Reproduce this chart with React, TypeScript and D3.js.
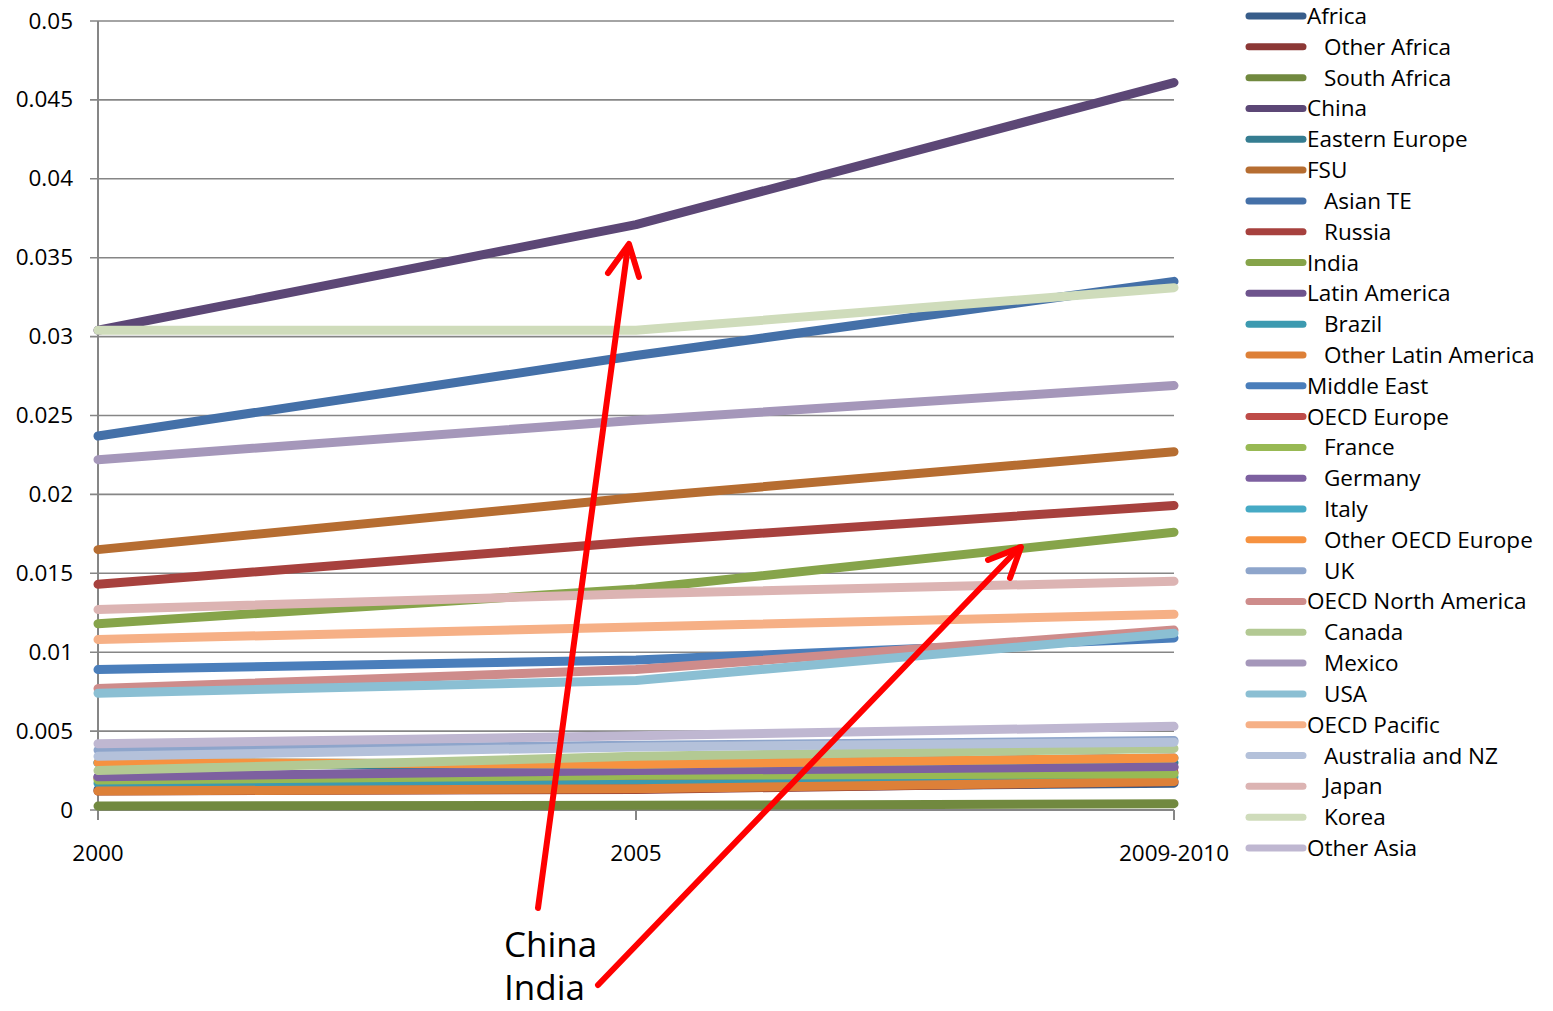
import React from "react";
import * as d3 from "d3";

// Category axis
const periods = ["2000", "2005", "2009-2010"];

// Series (legend order = draw order)
const seriesNames = [
  "Africa", "  Other Africa", "  South Africa", "China", "Eastern Europe", "FSU",
  "  Asian TE", "  Russia", "India", "Latin America", "  Brazil", "  Other Latin America",
  "Middle East", "OECD Europe", "  France", "  Germany", "  Italy", "  Other OECD Europe",
  "  UK", "OECD North America", "  Canada", "  Mexico", "  USA", "OECD Pacific",
  "  Australia and NZ", "  Japan", "  Korea", "Other Asia",
];

const africa = [0.0013, 0.0014, 0.0017];
const otherAfrica = [0.0012, 0.0013, 0.0018];
const southAfrica = [0.00025, 0.0003, 0.0004];
const china = [0.0304, 0.0371, 0.0461];
const easternEurope = [0.0030, 0.0027, 0.0030];
const fsu = [0.0165, 0.0198, 0.0227];
const asianTE = [0.0237, 0.0288, 0.0335];
const russia = [0.0143, 0.0170, 0.0193];
const india = [0.0118, 0.0140, 0.0176];
const latinAmerica = [0.0021, 0.0024, 0.0027];
const brazil = [0.0017, 0.0019, 0.0021];
const otherLatinAmerica = [0.0012, 0.00135, 0.0018];
const middleEast = [0.0089, 0.0095, 0.0109];
const oecdEurope = [0.0020, 0.0022, 0.0024];
const france = [0.0019, 0.0022, 0.0023];
const germany = [0.0021, 0.0025, 0.00275];
const italy = [0.0030, 0.0029, 0.0033];
const otherOecdEurope = [0.0030, 0.0029, 0.0033];
const uk = [0.0038, 0.0041, 0.0044];
const oecdNorthAmerica = [0.0077, 0.0089, 0.0114];
const canada = [0.0025, 0.0034, 0.0039];
const mexico = [0.0222, 0.0247, 0.0269];
const usa = [0.0074, 0.0082, 0.0112];
const oecdPacific = [0.0108, 0.0116, 0.0124];
const australiaNZ = [0.0034, 0.0040, 0.0043];
const japan = [0.0127, 0.0137, 0.0145];
const korea = [0.0304, 0.0304, 0.0331];
const otherAsia = [0.0042, 0.0047, 0.0053];

const seriesValues = [
  africa, otherAfrica, southAfrica, china, easternEurope, fsu, asianTE, russia, india,
  latinAmerica, brazil, otherLatinAmerica, middleEast, oecdEurope, france, germany, italy,
  otherOecdEurope, uk, oecdNorthAmerica, canada, mexico, usa, oecdPacific, australiaNZ,
  japan, korea, otherAsia,
];

const seriesColors = [
  "#385d8a", "#8c3836", "#71893f", "#5c4776", "#357d91", "#b66d31", "#4470a8", "#a7413e",
  "#86a44a", "#6e548d", "#3c9ab0", "#dd8038", "#4a7ebb", "#be4b48", "#98b954", "#7d60a0",
  "#46aac5", "#f69240", "#8ea5cb", "#ce8c8b", "#b3c993", "#a597ba", "#8bbfd3", "#f6b086",
  "#b4c1da", "#dcb4b3", "#cfdcbb", "#bfb7d1",
];

const yTicks = [0, 0.005, 0.01, 0.015, 0.02, 0.025, 0.03, 0.035, 0.04, 0.045, 0.05];
const yTickLabels = ["0", "0.005", "0.01", "0.015", "0.02", "0.025", "0.03", "0.035", "0.04", "0.045", "0.05"];

const FONT = "'Open Sans', 'Noto Sans', sans-serif";

export default function App() {
  const width = 1553;
  const height = 1011;
  const left = 98, right = 1174, top = 21, bottom = 810;

  const x = d3.scalePoint<string>().domain(periods).range([left, right]);
  const y = d3.scaleLinear().domain([0, 0.05]).range([bottom, top]);
  const line = d3
    .line<number>()
    .x((_, i) => x(periods[i]) as number)
    .y((d) => y(d));

  const legendY = d3.scaleLinear().domain([0, seriesNames.length - 1]).range([16, 848]);

  return (
    <svg
      width={width}
      height={height}
      style={{ position: "absolute", left: 0, top: 0, background: "#fff" }}
      fontFamily={FONT}
    >
      {/* gridlines and y ticks */}
      {yTicks.map((t, i) => (
        <g key={i}>
          <line x1={90} x2={right} y1={y(t)} y2={y(t)} stroke="#868686" strokeWidth={1.6} />
          <text x={73} y={y(t) + 7.5} textAnchor="end" fontSize={22.5} fill="#000">
            {yTickLabels[i]}
          </text>
        </g>
      ))}
      {/* axes */}
      <line x1={left} x2={left} y1={top} y2={bottom} stroke="#868686" strokeWidth={2} />
      <line x1={left} x2={right} y1={bottom} y2={bottom} stroke="#868686" strokeWidth={2} />
      {periods.map((p) => (
        <g key={p}>
          <line x1={x(p)} x2={x(p)} y1={bottom} y2={820} stroke="#868686" strokeWidth={2} />
          <text x={x(p)} y={861} textAnchor="middle" fontSize={22.5} fill="#000">
            {p}
          </text>
        </g>
      ))}

      {/* series lines */}
      {seriesValues.map((vals, i) => (
        <path
          key={seriesNames[i]}
          d={line(vals) || ""}
          fill="none"
          stroke={seriesColors[i]}
          strokeWidth={9}
          strokeLinejoin="round"
          strokeLinecap="round"
        />
      ))}

      {/* legend */}
      {seriesNames.map((name, i) => (
        <g key={name}>
          <line
            x1={1249}
            x2={1303}
            y1={legendY(i)}
            y2={legendY(i)}
            stroke={seriesColors[i]}
            strokeWidth={7}
            strokeLinecap="round"
          />
          <text
            x={name.startsWith("  ") ? 1324 : 1307}
            y={legendY(i) + 8}
            fontSize={22.5}
            fill="#000"
          >
            {name.trim()}
          </text>
        </g>
      ))}

      {/* annotation arrows */}
      <g stroke="#ff0000" strokeWidth={6} fill="none" strokeLinecap="round" strokeLinejoin="round">
        <line x1={538} y1={908} x2={628} y2={246} />
        <polyline points="608,273 629,244 639,277" />
        <line x1={598} y1={985} x2={1019} y2={548} />
        <polyline points="988,560 1021,547 1010,578" />
      </g>
      <text x={504} y={957} fontSize={35} fill="#000">China</text>
      <text x={504} y={1000} fontSize={35} fill="#000">India</text>
    </svg>
  );
}
